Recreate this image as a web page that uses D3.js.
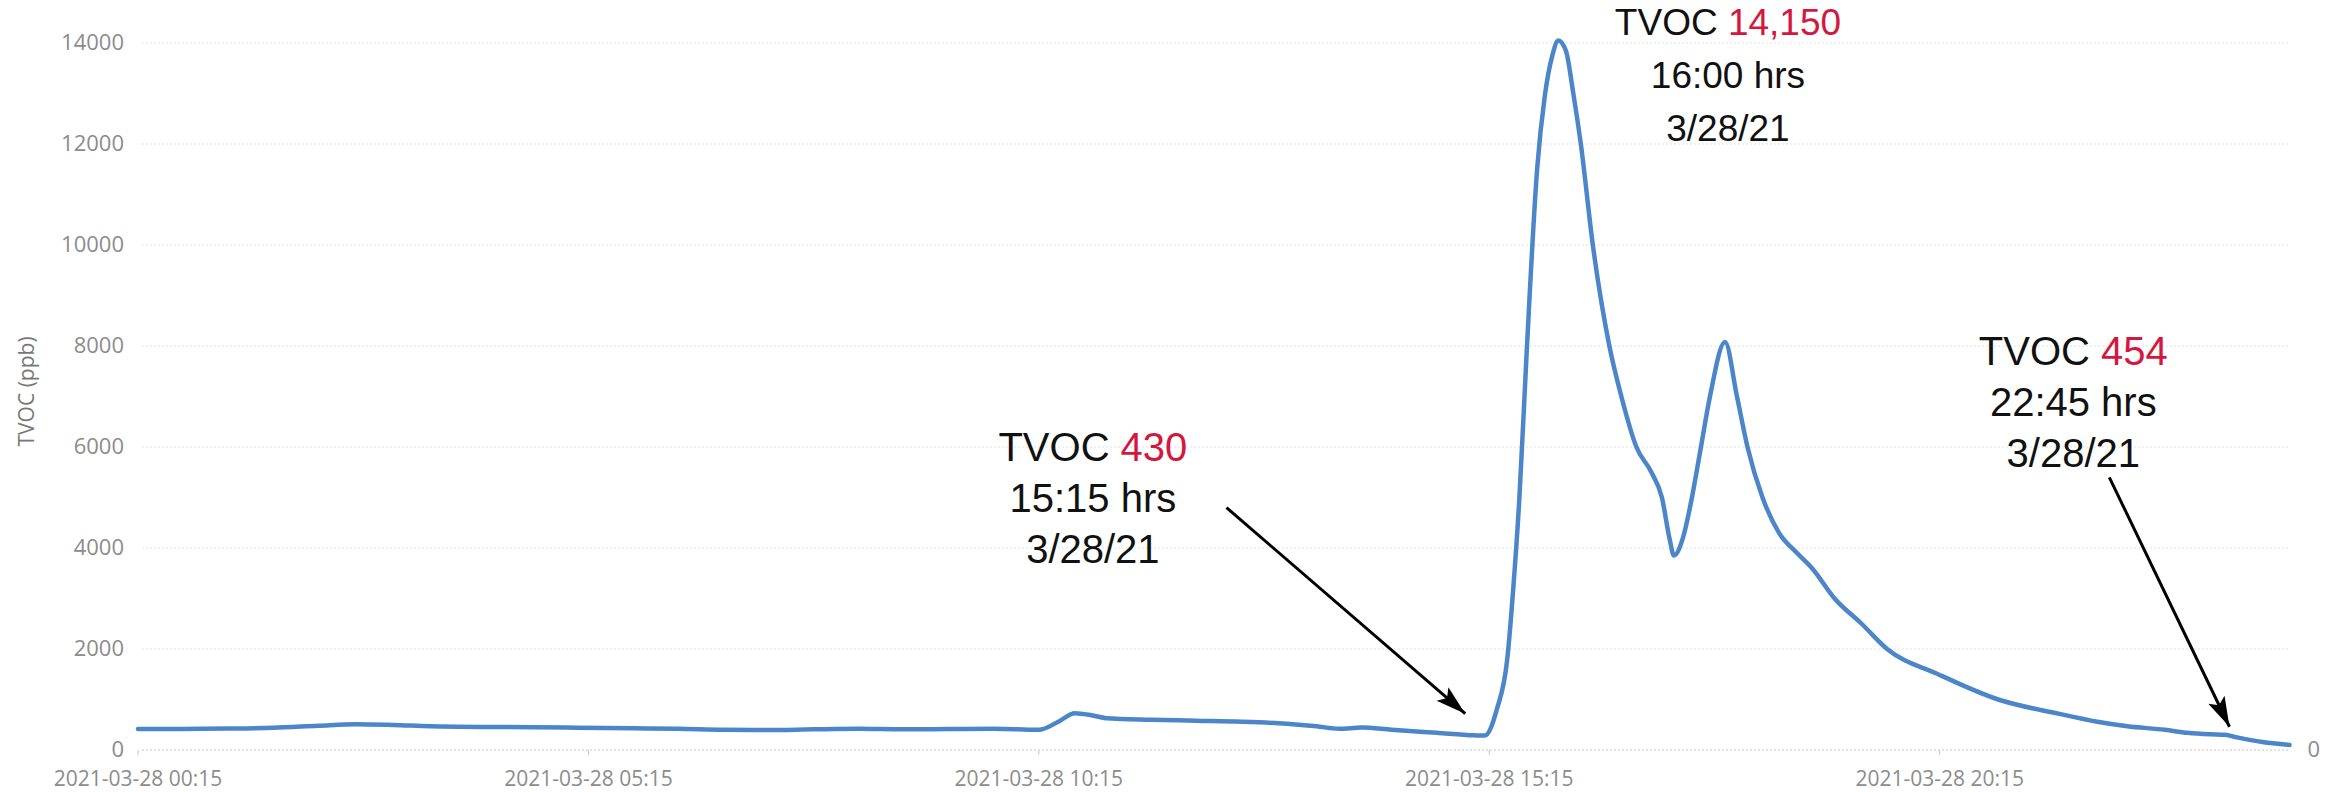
<!DOCTYPE html>
<html>
<head>
<meta charset="utf-8">
<script src="https://cdn.jsdelivr.net/npm/d3@7"></script>
<style>
  body { margin: 0; background: #fff; }
  svg { display: block; }
</style>
</head>
<body>
<div id="chart"></div>
<script>
var width = 2338;
var height = 792;

// TVOC readings
var times = [
  "2021-03-28 00:15", "2021-03-28 00:45", "2021-03-28 01:15", "2021-03-28 01:45",
  "2021-03-28 02:15", "2021-03-28 02:40", "2021-03-28 03:05", "2021-03-28 03:30",
  "2021-03-28 04:15", "2021-03-28 05:00", "2021-03-28 05:45", "2021-03-28 06:15",
  "2021-03-28 06:45", "2021-03-28 07:15", "2021-03-28 07:45", "2021-03-28 08:15",
  "2021-03-28 08:45", "2021-03-28 09:15", "2021-03-28 09:45", "2021-03-28 10:15",
  "2021-03-28 10:28", "2021-03-28 10:39", "2021-03-28 10:50", "2021-03-28 11:00",
  "2021-03-28 11:30", "2021-03-28 12:00", "2021-03-28 12:30", "2021-03-28 13:00",
  "2021-03-28 13:20", "2021-03-28 13:35", "2021-03-28 13:50", "2021-03-28 14:10",
  "2021-03-28 14:40", "2021-03-28 15:05", "2021-03-28 15:12", "2021-03-28 15:20",
  "2021-03-28 15:27", "2021-03-28 15:31", "2021-03-28 15:35", "2021-03-28 15:40",
  "2021-03-28 15:47", "2021-03-28 15:52", "2021-03-28 15:57", "2021-03-28 16:01",
  "2021-03-28 16:06", "2021-03-28 16:11", "2021-03-28 16:16", "2021-03-28 16:24",
  "2021-03-28 16:35", "2021-03-28 16:43", "2021-03-28 16:53", "2021-03-28 17:03",
  "2021-03-28 17:10", "2021-03-28 17:15", "2021-03-28 17:18", "2021-03-28 17:24",
  "2021-03-28 17:30", "2021-03-28 17:36", "2021-03-28 17:42", "2021-03-28 17:52",
  "2021-03-28 18:00", "2021-03-28 18:07", "2021-03-28 18:17", "2021-03-28 18:28",
  "2021-03-28 18:40", "2021-03-28 18:50", "2021-03-28 19:05", "2021-03-28 19:23",
  "2021-03-28 19:40", "2021-03-28 20:14", "2021-03-28 20:54", "2021-03-28 21:34",
  "2021-03-28 22:00", "2021-03-28 22:20", "2021-03-28 22:45", "2021-03-28 23:00",
  "2021-03-28 23:15", "2021-03-28 23:25", "2021-03-28 23:33", "2021-03-28 23:50",
  "2021-03-29 00:08"
];
var tvoc = [
  415, 418, 425, 440,
  480, 510, 495, 470,
  455, 445, 430, 420,
  400, 395, 410, 420,
  410, 415, 420, 400,
  560, 730, 690, 630,
  600, 580, 560, 520,
  470, 420, 445, 400,
  340, 290, 285, 800,
  1800, 3200, 4950, 7920,
  11545, 12950, 13750, 14050,
  13850, 13000, 12000, 10000,
  8000, 7000, 6000, 5500,
  5000, 4200, 3850, 4200,
  5000, 6000, 7000, 8080,
  7000, 6000, 5000, 4300,
  3900, 3600, 3000, 2500,
  2000, 1500, 1000, 720,
  560, 470, 400, 340,
  310, 300, 250, 160,
  100
];

var yTicks = [0, 2000, 4000, 6000, 8000, 10000, 12000, 14000];
var xTicks = ["2021-03-28 00:15", "2021-03-28 05:15", "2021-03-28 10:15", "2021-03-28 15:15", "2021-03-28 20:15"];

// call-outs pasted on top of the chart
var noteValues = ["14,150", "430", "454"];
var noteHours = ["16:00 hrs", "15:15 hrs", "22:45 hrs"];
var noteDates = ["3/28/21", "3/28/21", "3/28/21"];
// where each call-out sits (time, value at first baseline) and where its arrow runs
var noteAt = [["2021-03-28 17:54", 14150], ["2021-03-28 10:51", 5720], ["2021-03-28 21:44", 7620]];
var noteSize = [37, 40, 40];
var noteLead = [53, 51, 51];
var arrowFrom = [null, ["2021-03-28 12:20", 4800], ["2021-03-28 22:08", 5400]];
var arrowTo = [null, ["2021-03-28 14:59", 720], ["2021-03-28 23:28", 460]];

var parse = d3.timeParse("%Y-%m-%d %H:%M");
var data = times.map(function (t, i) { return { t: parse(t), v: tvoc[i] }; });

var x = d3.scaleTime()
    .domain([parse("2021-03-28 00:15"), parse("2021-03-29 00:15")])
    .range([138, 2300]);
var y = d3.scaleLinear()
    .domain([0, 14000])
    .range([750, 43]);

var svg = d3.select("#chart").append("svg")
    .attr("width", width)
    .attr("height", height);

svg.append("rect").attr("width", width).attr("height", height).attr("fill", "#fff");

var x0 = x(data[0].t), x1 = x(data[data.length - 1].t);

// dotted grid
svg.append("g")
  .selectAll("line")
  .data(yTicks)
  .enter().append("line")
    .attr("x1", x0 + 4)
    .attr("x2", x1)
    .attr("y1", function (d) { return y(d); })
    .attr("y2", function (d) { return y(d); })
    .attr("stroke", function (d) { return d === 0 ? "#c4c4c4" : "#e2e2e2"; })
    .attr("stroke-width", 1.2)
    .attr("stroke-dasharray", "2,2");

// y labels
svg.append("g")
  .selectAll("text")
  .data(yTicks)
  .enter().append("text")
    .attr("x", 124)
    .attr("y", function (d) { return y(d); })
    .attr("dy", "0.3em")
    .attr("text-anchor", "end")
    .style("font-family", "'Open Sans', sans-serif")
    .style("font-size", "22px")
    .style("fill", "#8c8c8c")
    .text(function (d) { return d; });

// right hand zero
svg.append("text")
    .attr("x", x1 + 18)
    .attr("y", y(0))
    .attr("dy", "0.3em")
    .style("font-family", "'Open Sans', sans-serif")
    .style("font-size", "22px")
    .style("fill", "#8c8c8c")
    .text("0");

svg.append("text")
    .attr("transform", "translate(34," + y(7100) + ") rotate(-90)")
    .attr("text-anchor", "middle")
    .style("font-family", "'Open Sans', sans-serif")
    .style("font-size", "21px")
    .style("fill", "#777")
    .text("TVOC (ppb)");

// x ticks + labels
var xt = svg.append("g")
  .selectAll("g")
  .data(xTicks)
  .enter().append("g")
    .attr("transform", function (d) { return "translate(" + x(parse(d)) + ",0)"; });
xt.append("line")
    .attr("y1", y(0)).attr("y2", y(0) + 5)
    .attr("stroke", "#c4c4c4");
xt.append("text")
    .attr("y", 785.5)
    .attr("text-anchor", "middle")
    .style("font-family", "'Open Sans', sans-serif")
    .style("font-size", "21px")
    .style("fill", "#8c8c8c")
    .text(function (d) { return d; });

// the series
var line = d3.line()
    .x(function (d) { return x(d.t); })
    .y(function (d) { return y(d.v); })
    .curve(d3.curveMonotoneX);

svg.append("path")
    .datum(data)
    .attr("d", line)
    .attr("fill", "none")
    .attr("stroke", "#4d86c8")
    .attr("stroke-width", 4.5)
    .attr("stroke-linejoin", "round")
    .attr("stroke-linecap", "round");

// arrows
svg.append("defs").append("marker")
    .attr("id", "head")
    .attr("markerUnits", "userSpaceOnUse")
    .attr("viewBox", "-32 -10 34 20")
    .attr("markerWidth", 34)
    .attr("markerHeight", 20)
    .attr("refX", 0)
    .attr("refY", 0)
    .attr("orient", "auto")
  .append("path")
    .attr("d", "M0,0 L-30,-9 L-24,0 L-30,9 Z")
    .attr("fill", "#000");

arrowFrom.forEach(function (a, i) {
  if (!a) return;
  svg.append("line")
      .attr("x1", x(parse(a[0])))
      .attr("y1", y(a[1]))
      .attr("x2", x(parse(arrowTo[i][0])))
      .attr("y2", y(arrowTo[i][1]))
      .attr("stroke", "#000")
      .attr("stroke-width", 3)
      .attr("marker-end", "url(#head)");
});

// call-out text
noteValues.forEach(function (v, i) {
  var g = svg.append("g")
      .attr("transform", "translate(" + x(parse(noteAt[i][0])) + "," + y(noteAt[i][1]) + ")")
      .style("font-family", "'Liberation Sans', Arial, sans-serif")
      .style("font-size", noteSize[i] + "px")
      .attr("text-anchor", "middle")
      .style("fill", "#111");
  var t1 = g.append("text");
  t1.append("tspan").text("TVOC ");
  t1.append("tspan").style("fill", "#d4173e").text(v);
  g.append("text").attr("y", noteLead[i]).text(noteHours[i]);
  g.append("text").attr("y", noteLead[i] * 2).text(noteDates[i]);
});
</script>
</body>
</html>
